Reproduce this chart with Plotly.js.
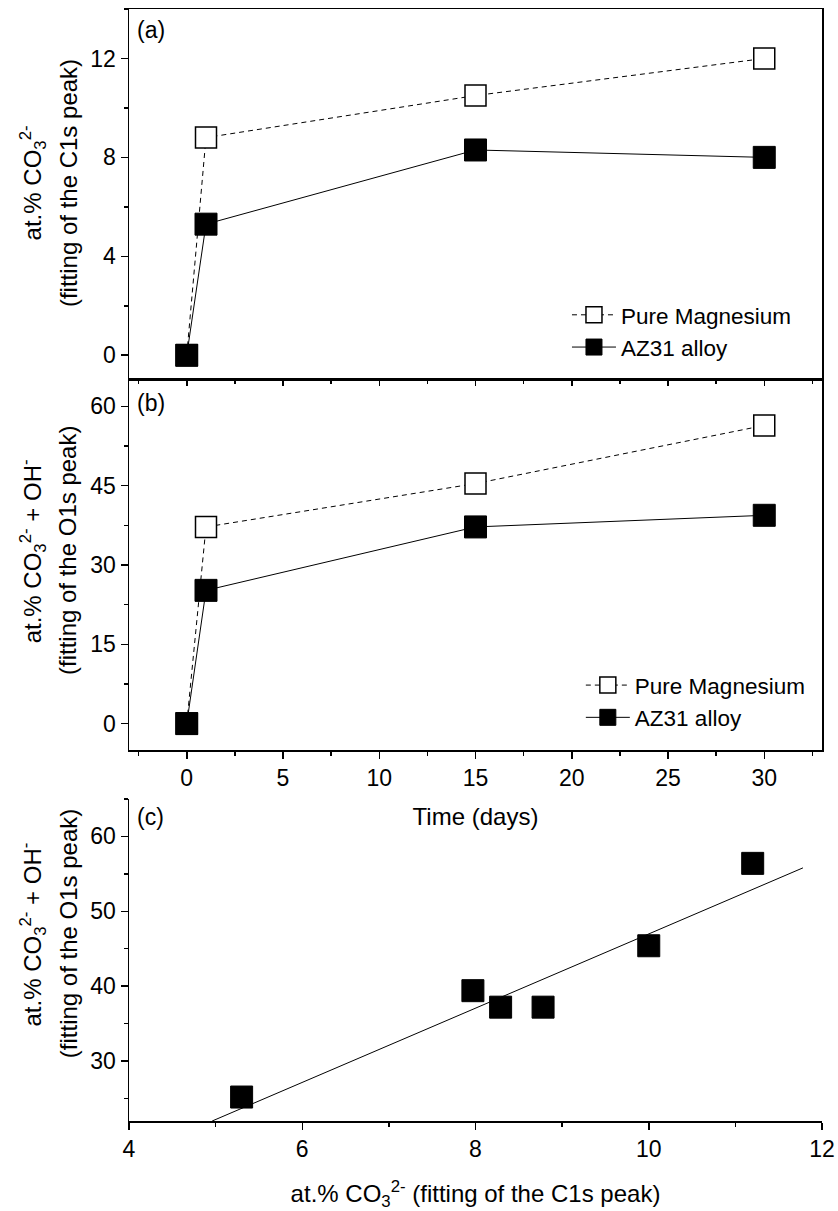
<!DOCTYPE html>
<html>
<head>
<meta charset="utf-8">
<script src="https://cdn.plot.ly/plotly-3.0.1.min.js"></script>
<style>html,body{margin:0;padding:0;background:#fff;}#chart{width:838px;height:1211px;}</style>
</head>
<body>
<div id="chart"></div>
<script>
// ---- data ----
const days = [0, 1, 15, 30];
const pureMgC1s = [0, 8.8, 10.5, 12.0];
const az31C1s = [0, 5.3, 8.3, 8.0];
const pureMgO1s = [0, 37.2, 45.4, 56.4];
const az31O1s = [0, 25.2, 37.2, 39.4];
const corrC1s = [5.3, 7.97, 8.29, 8.78, 10.0, 11.2];
const corrO1s = [25.2, 39.4, 37.2, 37.2, 45.4, 56.4];
const fitX = [4.96, 11.78];
const fitY = [22.0, 55.8];
const seriesNames = ['Pure Magnesium', 'AZ31 alloy'];

const FONT = 'Liberation Sans, Arial, sans-serif';
const openSq = {symbol: 'square', size: 21, color: '#ffffff', line: {color: '#000', width: 1.5}};
const fillSq = {symbol: 'square', size: 22, color: '#000000', line: {color: '#000', width: 1}};

const traces = [
  {x: days, y: pureMgC1s, name: seriesNames[0], mode: 'lines+markers', xaxis: 'x', yaxis: 'y', legend: 'legend',
   line: {color: '#000', width: 1, dash: '5px,4px'}, marker: openSq},
  {x: days, y: az31C1s, name: seriesNames[1], mode: 'lines+markers', xaxis: 'x', yaxis: 'y', legend: 'legend',
   line: {color: '#000', width: 1}, marker: fillSq},
  {x: days, y: pureMgO1s, name: seriesNames[0], mode: 'lines+markers', xaxis: 'x2', yaxis: 'y2', legend: 'legend2',
   line: {color: '#000', width: 1, dash: '5px,4px'}, marker: openSq},
  {x: days, y: az31O1s, name: seriesNames[1], mode: 'lines+markers', xaxis: 'x2', yaxis: 'y2', legend: 'legend2',
   line: {color: '#000', width: 1}, marker: fillSq},
  {x: corrC1s, y: corrO1s, mode: 'markers', xaxis: 'x3', yaxis: 'y3', showlegend: false, marker: fillSq},
  {x: fitX, y: fitY, mode: 'lines', xaxis: 'x3', yaxis: 'y3', showlegend: false, line: {color: '#000', width: 1}}
];

const TICK = 23, TITLE = 24, LEG = 22.5;
const baseAx = {
  showgrid: false, zeroline: false, showline: true, linecolor: '#000', linewidth: 1.5,
  ticks: 'outside', tickcolor: '#000', tickwidth: 1.5, ticklen: 7,
  tickfont: {family: FONT, size: TICK, color: '#000'}
};
function ax(extra) { return Object.assign({}, baseAx, extra); }
function innerAx(extra) {
  return Object.assign({showgrid: false, zeroline: false, showline: false, showticklabels: false,
    ticks: 'inside', tickcolor: '#000', tickwidth: 1, ticklen: 4}, extra);
}

const dA = [0.6664, 1], dB = [0.3336, 0.6664], dC = [0, 0.2896];
function yTitle(text, x, y) {
  return {text: text, xref: 'paper', yref: 'paper', x: x, y: y, textangle: -90, xanchor: 'center', yanchor: 'middle',
    showarrow: false, font: {family: FONT, size: TITLE}};
}
function panelLabel(text, y) {
  return {text: text, xref: 'paper', yref: 'paper', x: 0.0087, y: y, xanchor: 'left', yanchor: 'middle',
    showarrow: false, font: {family: FONT, size: TICK}};
}

const layout = {
  width: 838, height: 1211,
  margin: {l: 129, r: 16, t: 9, b: 90},
  paper_bgcolor: '#fff', plot_bgcolor: '#fff',
  font: {family: FONT, size: TICK, color: '#000'},
  xaxis: ax({anchor: 'y', domain: [0, 1], range: [-3, 33], dtick: 5, tick0: 0, showticklabels: false, mirror: true, ticklen: 5,
    minor: {dtick: 2.5, ticks: 'outside', ticklen: 3, tickcolor: '#000'}}),
  yaxis: ax({anchor: 'x', domain: dA, range: [-1, 14], dtick: 4, tick0: 0, mirror: true,
    minor: {dtick: 2, ticks: 'outside', ticklen: 4, tickcolor: '#000'}}),
  xaxis2: ax({anchor: 'y2', domain: [0, 1], range: [-3, 33], dtick: 5, tick0: 0, mirror: true,
    minor: {dtick: 2.5, ticks: 'outside', ticklen: 4, tickcolor: '#000'},
    title: {text: 'Time (days)', font: {family: FONT, size: TITLE}, standoff: 18}}),
  yaxis2: ax({anchor: 'x2', domain: dB, range: [-5, 65], dtick: 15, tick0: 0, mirror: true,
    minor: {dtick: 7.5, ticks: 'outside', ticklen: 4, tickcolor: '#000'}}),
  xaxis3: ax({anchor: 'y3', domain: [0, 1], range: [4, 12], dtick: 2, tick0: 4,
    minor: {dtick: 1, ticks: 'outside', ticklen: 4, tickcolor: '#000'},
    title: {text: 'at.% CO<sub>3</sub><sup>2-</sup> (fitting of the C1s peak)', font: {family: FONT, size: TITLE}, standoff: 26}}),
  yaxis3: ax({anchor: 'x3', domain: dC, range: [22, 65], dtick: 10, tick0: 0,
    minor: {dtick: 5, ticks: 'outside', ticklen: 4, tickcolor: '#000'}}),
  xaxis4: innerAx({overlaying: 'x', anchor: 'y', side: 'top', range: [-3, 33], dtick: 5, tick0: 0,
    minor: {dtick: 2.5, ticks: 'inside', ticklen: 3, tickcolor: '#000'}}),
  yaxis4: innerAx({overlaying: 'y', anchor: 'x', side: 'right', range: [-1, 14], dtick: 4, tick0: 0,
    minor: {dtick: 2, ticks: 'inside', ticklen: 3, tickcolor: '#000'}}),
  yaxis5: innerAx({overlaying: 'y2', anchor: 'x2', side: 'right', range: [-5, 65], dtick: 15, tick0: 0,
    minor: {dtick: 7.5, ticks: 'inside', ticklen: 3, tickcolor: '#000'}}),
  yaxis6: innerAx({overlaying: 'y3', anchor: 'x3', side: 'right', range: [22, 65], dtick: 10, tick0: 0, showline: true, linecolor: '#000', linewidth: 1.5,
    minor: {dtick: 5, ticks: 'inside', ticklen: 3, tickcolor: '#000'}}),
  legend: {x: 0.632, y: 0.744, xanchor: 'left', yanchor: 'top', bgcolor: 'rgba(0,0,0,0)',
    font: {family: FONT, size: LEG}, itemsizing: 'trace', tracegroupgap: 0, itemwidth: 44},
  legend2: {x: 0.652, y: 0.411, xanchor: 'left', yanchor: 'top', bgcolor: 'rgba(0,0,0,0)',
    font: {family: FONT, size: LEG}, itemsizing: 'trace', tracegroupgap: 0, itemwidth: 44},
  annotations: [
    panelLabel('(a)', 0.981),
    panelLabel('(b)', 0.6457),
    panelLabel('(c)', 0.2734),
    yTitle('at.% CO<sub>3</sub><sup>2-</sup>', -0.138, 0.8435),
    yTitle('(fitting of the C1s peak)', -0.088, 0.8435),
    yTitle('at.% CO<sub>3</sub><sup>2-</sup> + OH<sup>-</sup>', -0.138, 0.5126),
    yTitle('(fitting of the O1s peak)', -0.088, 0.5126),
    yTitle('at.% CO<sub>3</sub><sup>2-</sup> + OH<sup>-</sup>', -0.138, 0.168),
    yTitle('(fitting of the O1s peak)', -0.088, 0.168)
  ],
  showlegend: true
};

Plotly.newPlot('chart', traces, layout, {staticPlot: true, displayModeBar: false});
</script>
</body>
</html>
